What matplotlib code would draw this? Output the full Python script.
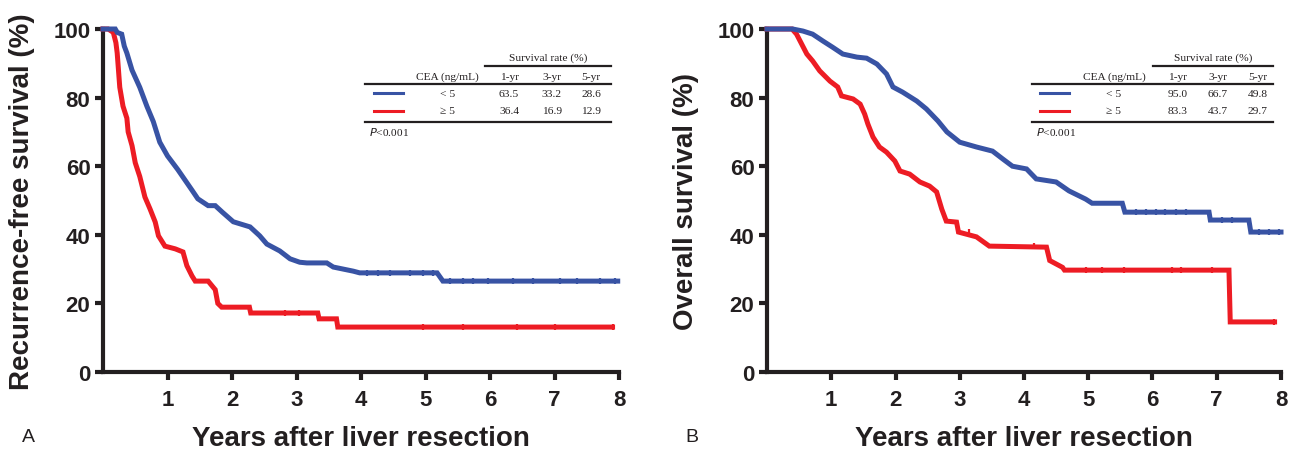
import numpy as np
import matplotlib
import matplotlib.pyplot as plt

matplotlib.rcParams['font.family'] = 'Liberation Sans'

BLUE = '#3853a4'
RED = '#ed1c24'
INK = '#231f20'

# curve vertices: (years, survival %)
rfs_low_t = [0, 0.19, 0.22, 0.29, 0.33, 0.37, 0.45, 0.57, 0.68, 0.78, 0.88, 1.0, 1.16, 1.27,
             1.38, 1.47, 1.63, 1.74, 1.85, 2.02, 2.28, 2.43, 2.54, 2.74, 2.9, 3.05, 3.16,
             3.47, 3.57, 3.88, 3.98, 5.18, 5.27, 7.98]
rfs_low_s = [100, 100, 99, 98.5, 95, 93, 88, 83, 77.5, 73, 67, 63, 59, 56,
             53, 50.5, 48.5, 48.5, 46.6, 43.8, 42.3, 39.7, 37.3, 35.3, 33, 32, 31.8,
             31.8, 30.6, 29.4, 28.9, 28.9, 26.5, 26.5]
rfs_high_t = [0, 0.08, 0.16, 0.2, 0.22, 0.26, 0.31, 0.37, 0.39, 0.45, 0.5, 0.57, 0.65, 0.73,
              0.81, 0.86, 0.96, 1.12, 1.24, 1.3, 1.38, 1.43, 1.63, 1.74, 1.78, 1.84, 2.27,
              2.29, 3.33, 3.35, 3.62, 3.64, 7.9]
rfs_high_s = [100, 100, 99, 96, 93, 83, 77.5, 74, 70, 66, 61, 57, 51, 47.5,
              43.7, 39.7, 36.7, 35.9, 35, 31, 28, 26.5, 26.5, 24, 20, 18.9, 18.9,
              17.2, 17.2, 15.5, 15.5, 13.1, 13.1]
rfs_low_cens = [4.09, 4.27, 4.45, 4.76, 4.96, 5.12, 5.38, 5.58, 5.74, 5.97, 6.36, 6.67,
                7.09, 7.35, 7.7, 7.94]
rfs_high_cens = [2.82, 3.04, 4.96, 5.58, 6.42, 7.0, 7.9]

os_low_t = [0, 0.4, 0.56, 0.71, 0.87, 1.02, 1.18, 1.4, 1.55, 1.71, 1.86, 1.96, 2.11, 2.33,
            2.48, 2.66, 2.8, 3.0, 3.26, 3.51, 3.67, 3.82, 4.04, 4.19, 4.5, 4.7, 4.96, 5.06,
            5.53, 5.57, 6.88, 6.9, 7.5, 7.53, 8.0]
os_low_s = [100, 100, 99.4, 98.5, 96.5, 94.7, 92.7, 91.8, 91.5, 89.8, 86.9, 83.1, 81.6, 79,
            76.7, 73.2, 70, 67, 65.6, 64.4, 62.1, 60, 59.2, 56.3, 55.4, 52.8, 50.4, 49.2,
            49.2, 46.6, 46.6, 44.3, 44.3, 40.8, 40.8]
os_high_t = [0, 0.39, 0.46, 0.54, 0.62, 0.71, 0.82, 0.98, 1.1, 1.16, 1.34, 1.45, 1.52, 1.57,
             1.65, 1.75, 1.86, 1.99, 2.07, 2.22, 2.38, 2.53, 2.64, 2.72, 2.79, 2.95, 2.98,
             3.26, 3.46, 4.35, 4.4, 4.6, 4.63, 7.19, 7.21, 7.9]
os_high_s = [100, 100, 98.5, 95.6, 92.7, 90.7, 87.8, 84.8, 83.1, 80.5, 79.6, 78.1, 75.2, 72.3,
             68.5, 65.6, 64.1, 61.5, 58.6, 57.7, 55.4, 54.2, 52.5, 47.5, 44, 43.7, 40.8,
             39.4, 36.7, 36.4, 32.5, 30.5, 29.7, 29.7, 14.6, 14.6]
os_low_cens = [5.74, 5.9, 6.06, 6.2, 6.37, 6.52, 7.08, 7.24, 7.66, 7.81, 7.97]
os_high_cens = [3.15, 4.16, 4.97, 5.21, 5.56, 6.3, 6.44, 6.93, 7.89]

groups = ['< 5', '\u2265 5']
years_cols = ['1-yr', '3-yr', '5-yr']
rfs_rates = [['63.5', '33.2', '28.6'], ['36.4', '16.9', '12.9']]
os_rates = [['95.0', '66.7', '49.8'], ['83.3', '43.7', '29.7']]

W, H = 1292, 456
fig = plt.figure(figsize=(W / 100, H / 100), dpi=100)
ax1 = fig.add_axes([103 / W, (H - 373) / H, 516 / W, 343 / H])
ax2 = fig.add_axes([767 / W, (H - 373) / H, 514 / W, 343 / H])


def censor_y(ts, ss, c):
    ts = np.array(ts)
    ss = np.array(ss)
    return [ss[np.searchsorted(ts, x, side='right') - 1] for x in c]


def draw_table(ax, rates, xs):
    # xs: line start, top-line start, CEA col, 1/3/5-yr cols, legend seg start/end
    x0, xtop, xcea, c1, c3, c5, l0, l1 = xs
    kw = dict(transform=ax.transAxes, family='Liberation Serif', fontsize=8.2,
              color=INK, va='center')
    tr = ax.transAxes
    ax.plot([xtop, 0.985], [0.892, 0.892], color=INK, lw=1.6, transform=tr, clip_on=False)
    ax.plot([x0, 0.985], [0.840, 0.840], color=INK, lw=1.6, transform=tr, clip_on=False)
    ax.plot([x0, 0.985], [0.729, 0.729], color=INK, lw=1.6, transform=tr, clip_on=False)
    ax.text((xtop + 0.985) / 2, 0.917, 'Survival rate (%)', ha='center', **kw)
    ax.text(xcea, 0.862, 'CEA (ng/mL)', ha='center', **kw)
    for x, lab in zip([c1, c3, c5], years_cols):
        ax.text(x, 0.862, lab, ha='center', **kw)
    for yy, g, col, vals in zip([0.813, 0.761], groups, [BLUE, RED], rates):
        ax.plot([l0, l1], [yy, yy], color=col, lw=2.2, transform=tr, clip_on=False)
        ax.text(xcea, yy, g, ha='center', **kw)
        for x, v in zip([c1, c3, c5], vals):
            ax.text(x, yy, v, ha='center', **kw)
    ax.text(x0 + 0.008, 0.703, '$P$<0.001', ha='left', **kw)


panels = [
    (ax1, rfs_low_t, rfs_low_s, rfs_high_t, rfs_high_s, rfs_low_cens, rfs_high_cens,
     'Recurrence-free survival (%)', 'A', rfs_rates,
     [0.508, 0.740, 0.667, 0.787, 0.870, 0.946, 0.525, 0.581]),
    (ax2, os_low_t, os_low_s, os_high_t, os_high_s, os_low_cens, os_high_cens,
     'Overall survival (%)', 'B', os_rates,
     [0.516, 0.751, 0.675, 0.798, 0.877, 0.955, 0.531, 0.588]),
]

for ax, lt, ls, ht, hs, lc, hc, ylab, letter, rates, xs in panels:
    ax.plot(ht, hs, color=RED, lw=3.6, solid_joinstyle='miter', clip_on=False, zorder=3)
    ax.plot(lt, ls, color=BLUE, lw=3.6, solid_joinstyle='miter', clip_on=False, zorder=4)
    ax.plot(hc, censor_y(ht, hs, hc), ls='none', marker='|', ms=4.5, mew=1.6,
            color=RED, clip_on=False, zorder=3)
    ax.plot(lc, censor_y(lt, ls, lc), ls='none', marker='|', ms=4.5, mew=1.6,
            color=BLUE, clip_on=False, zorder=4)

    ax.set_xlim(0, 8)
    ax.set_ylim(0, 100)
    ax.set_xticks(range(1, 9))
    ax.set_yticks(range(0, 101, 20))
    for s in ['top', 'right']:
        ax.spines[s].set_visible(False)
    for s in ['left', 'bottom']:
        ax.spines[s].set_linewidth(3)
        ax.spines[s].set_color(INK)
    ax.tick_params(axis='both', length=6, width=3, color=INK, labelsize=16,
                   labelcolor=INK)
    ax.tick_params(axis='x', pad=6)
    ax.tick_params(axis='y', pad=3)
    for lab in ax.get_xticklabels() + ax.get_yticklabels():
        lab.set_fontweight('bold')

    bb = ax.get_position()
    fig.text(bb.x0 - 81 / W, bb.y0 + bb.height / 2, ylab, rotation=90, ha='center',
             va='center', fontsize=20, fontweight='bold', color=INK)
    fig.text(bb.x0 + bb.width / 2, 0.037, 'Years after liver resection', ha='center',
             va='center', fontsize=20, fontweight='bold', color=INK)
    fig.text(bb.x0 - 75 / W, 0.04, letter, ha='center', va='center', fontsize=14,
             color=INK)

    draw_table(ax, rates, xs)

fig.savefig('out.png', dpi=100)
